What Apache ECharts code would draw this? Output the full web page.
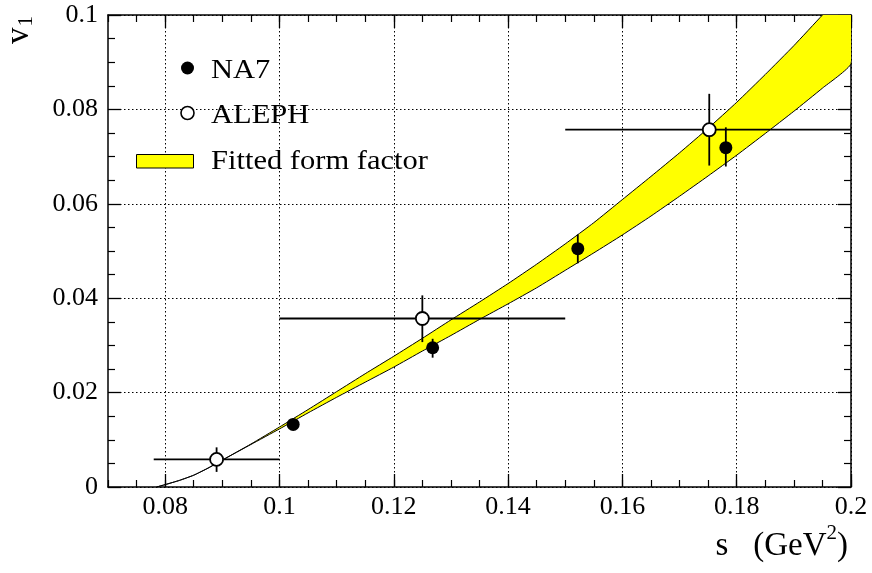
<!DOCTYPE html>
<html>
<head>
<meta charset="utf-8">
<script src="https://cdn.jsdelivr.net/npm/echarts@6/dist/echarts.min.js"></script>
<style>
  html, body { margin: 0; padding: 0; background: #fff; }
  #chart { width: 872px; height: 573px; }
</style>
</head>
<body>
<div id="chart"></div>
<script>
// fitted form factor band (upper / lower edge)
var bandS     = [0.0785, 0.08, 0.0825, 0.085, 0.0875, 0.09, 0.095, 0.10, 0.105, 0.11, 0.115, 0.12, 0.125, 0.13, 0.135, 0.14, 0.145, 0.15, 0.155, 0.16, 0.165, 0.17, 0.175, 0.18, 0.185, 0.19, 0.195, 0.2];
var bandUpper = [0, 0.0005, 0.0014, 0.0025, 0.0040, 0.0057, 0.0091, 0.0127, 0.0164, 0.0202, 0.0240, 0.0277, 0.0315, 0.0354, 0.0392, 0.0431, 0.0472, 0.0515, 0.0560, 0.0609, 0.0658, 0.0708, 0.0760, 0.0815, 0.0874, 0.0935, 0.1000, 0.1065];
var bandLower = [0, 0.0005, 0.0014, 0.0025, 0.0040, 0.0057, 0.0090, 0.0123, 0.0157, 0.0190, 0.0222, 0.0254, 0.0288, 0.0321, 0.0355, 0.0388, 0.0422, 0.0459, 0.0496, 0.0534, 0.0574, 0.0616, 0.0659, 0.0703, 0.0749, 0.0796, 0.0845, 0.0897];

// NA7 points
var na7S  = [0.1024, 0.1268, 0.1522, 0.1781];
var na7V  = [0.01325, 0.0295, 0.0505, 0.0719];
var na7Lo = [0.0126, 0.0274, 0.0474, 0.0679];
var na7Hi = [0.0139, 0.0314, 0.0535, 0.0762];

// ALEPH points
var alephS   = [0.0890, 0.125, 0.1752];
var alephV   = [0.00585, 0.0357, 0.0757];
var alephSLo = [0.078, 0.10, 0.15];
var alephSHi = [0.10, 0.15, 0.20];
var alephLo  = [0.0032, 0.0307, 0.0681];
var alephHi  = [0.0084, 0.0406, 0.0833];

var xTicks = [0.08, 0.1, 0.12, 0.14, 0.16, 0.18, 0.2];

var serif = '"Liberation Serif", "DejaVu Serif", serif';
var fmt = function (v) { return String(parseFloat((+v).toFixed(3))); };

var errRows = [];
na7S.forEach(function (s, i) { errRows.push([s, na7V[i], s, s, na7Lo[i], na7Hi[i]]); });
alephS.forEach(function (s, i) { errRows.push([s, alephV[i], alephSLo[i], alephSHi[i], alephLo[i], alephHi[i]]); });

var chart = echarts.init(document.getElementById('chart'));

var dotted = { color: '#000', width: 1, type: [1.5, 2.5] };

var option = {
  backgroundColor: '#fff',
  animation: false,
  grid: { left: 108, right: 21, top: 15, bottom: 86 },
  title: {
    right: 19, bottom: 2,
    text: '{a|s   (GeV}{sup|2}{a|)}',
    textStyle: {
      fontWeight: 'normal',
      rich: {
        a: { fontFamily: serif, fontSize: 33, fontWeight: 'normal', color: '#000', verticalAlign: 'bottom', lineHeight: 40 },
        sup: { fontFamily: serif, fontSize: 21, fontWeight: 'normal', color: '#000', verticalAlign: 'top', padding: [0, 0, 22, 0], lineHeight: 40 }
      }
    }
  },
  xAxis: [
    { // main bottom axis, major ticks
      type: 'value', position: 'bottom', min: 0.07, max: 0.2, interval: 0.005,
      axisLine: { show: true, lineStyle: { color: '#000', width: 1.5 } },
      axisTick: { show: true, inside: true, length: 13, customValues: xTicks, lineStyle: { color: '#000', width: 1.3 } },
      axisLabel: { show: true, customValues: xTicks, margin: 7, formatter: fmt, color: '#000', fontFamily: serif, fontSize: 26 },
      splitLine: { show: true, lineStyle: dotted }
    },
    { // bottom minor ticks
      type: 'value', position: 'bottom', min: 0.07, max: 0.2, interval: 0.005,
      axisLine: { show: false },
      axisTick: { show: true, inside: true, length: 7, lineStyle: { color: '#000', width: 1.2 } },
      axisLabel: { show: false }, splitLine: { show: false }
    },
    { // top major ticks
      type: 'value', position: 'top', min: 0.07, max: 0.2, interval: 0.005,
      axisLine: { show: true, lineStyle: { color: '#000', width: 1.5 } },
      axisTick: { show: true, inside: true, length: 13, customValues: xTicks, lineStyle: { color: '#000', width: 1.3 } },
      axisLabel: { show: false }, splitLine: { show: false }
    },
    { // top minor ticks
      type: 'value', position: 'top', min: 0.07, max: 0.2, interval: 0.005,
      axisLine: { show: false },
      axisTick: { show: true, inside: true, length: 7, lineStyle: { color: '#000', width: 1.2 } },
      axisLabel: { show: false }, splitLine: { show: false }
    }
  ],
  yAxis: [
    {
      type: 'value', position: 'left', min: 0, max: 0.1, interval: 0.02,
      axisLine: { show: true, lineStyle: { color: '#000', width: 1.5 } },
      axisTick: { show: true, inside: true, length: 13, lineStyle: { color: '#000', width: 1.3 } },
      minorTick: { show: true, splitNumber: 4, length: 7, lineStyle: { color: '#000', width: 1.2 } },
      axisLabel: { margin: 10, formatter: fmt, color: '#000', fontFamily: serif, fontSize: 26 },
      splitLine: { show: true, lineStyle: dotted }
    },
    {
      type: 'value', position: 'right', min: 0, max: 0.1, interval: 0.02,
      axisLine: { show: true, lineStyle: { color: '#000', width: 1.5 } },
      axisTick: { show: true, inside: true, length: 13, lineStyle: { color: '#000', width: 1.3 } },
      minorTick: { show: true, splitNumber: 4, length: 7, lineStyle: { color: '#000', width: 1.2 } },
      axisLabel: { show: false }, splitLine: { show: false }
    }
  ],
  graphic: [
    { // y axis name
      type: 'text', x: 19, y: 30, rotation: Math.PI / 2,
      style: {
        text: '{a|v}{sub|1}', align: 'center', verticalAlign: 'middle',
        rich: {
          a: { fontFamily: serif, fontSize: 33, fill: '#000' },
          sub: { fontFamily: serif, fontSize: 21, fill: '#000', padding: [14, 0, 0, 1] }
        }
      }
    },
    // legend
    { type: 'circle', shape: { cx: 187.5, cy: 68, r: 6.5 }, style: { fill: '#000' }, z: 10 },
    { type: 'text', x: 211, y: 70.5, scaleX: 1.13, style: { text: 'NA7', fill: '#000', font: '27px ' + serif, verticalAlign: 'middle' }, z: 10 },
    { type: 'circle', shape: { cx: 187.5, cy: 113, r: 6.5 }, style: { fill: '#fff', stroke: '#000', lineWidth: 1.6 }, z: 10 },
    { type: 'text', x: 211, y: 116, scaleX: 1.13, style: { text: 'ALEPH', fill: '#000', font: '27px ' + serif, verticalAlign: 'middle' }, z: 10 },
    { type: 'rect', shape: { x: 136.5, y: 154.5, width: 57, height: 13.5 }, style: { fill: '#ffff00', stroke: '#000', lineWidth: 1 }, z: 10 },
    { type: 'text', x: 211, y: 162, scaleX: 1.13, style: { text: 'Fitted form factor', fill: '#000', font: '27px ' + serif, verticalAlign: 'middle' }, z: 10 }
  ],
  series: [
    {
      name: 'Fitted form factor', type: 'custom', clip: true, z: 2,
      data: bandS.map(function (s, i) { return [s, bandLower[i], bandUpper[i]]; }),
      encode: { x: 0, y: [1, 2] },
      renderItem: function (params, api) {
        if (params.dataIndex !== 0) return;
        var pts = [];
        for (var i = 0; i < bandS.length; i++) pts.push(api.coord([bandS[i], bandUpper[i]]));
        for (var j = bandS.length - 1; j >= 0; j--) pts.push(api.coord([bandS[j], bandLower[j]]));
        var cs = params.coordSys;
        return {
          type: 'polygon',
          shape: { points: pts, smooth: 0.15 },
          style: { fill: '#ffff00', stroke: '#000', lineWidth: 1 },
          clipPath: { type: 'rect', shape: { x: cs.x, y: cs.y, width: cs.width, height: cs.height } }
        };
      }
    },
    {
      name: 'errors', type: 'custom', clip: true, z: 3,
      data: errRows,
      encode: { x: 0, y: 1 },
      renderItem: function (params, api) {
        var x = api.value(0), y = api.value(1);
        var xl = api.value(2), xh = api.value(3), yl = api.value(4), yh = api.value(5);
        var kids = [];
        var a = api.coord([x, yl]), b = api.coord([x, yh]);
        kids.push({ type: 'line', shape: { x1: a[0], y1: a[1], x2: b[0], y2: b[1] }, style: { stroke: '#000', lineWidth: 1.8 } });
        if (xh > xl) {
          var c = api.coord([xl, y]), d = api.coord([xh, y]);
          kids.push({ type: 'line', shape: { x1: c[0], y1: c[1], x2: d[0], y2: d[1] }, style: { stroke: '#000', lineWidth: 1.8 } });
        }
        return { type: 'group', children: kids };
      }
    },
    {
      name: 'NA7', type: 'scatter', z: 4, symbol: 'circle', symbolSize: 13,
      itemStyle: { color: '#000', opacity: 1 },
      data: na7S.map(function (s, i) { return [s, na7V[i]]; })
    },
    {
      name: 'ALEPH', type: 'scatter', z: 5, symbol: 'circle', symbolSize: 13,
      itemStyle: { color: '#fff', borderColor: '#000', borderWidth: 1.8, opacity: 1 },
      data: alephS.map(function (s, i) { return [s, alephV[i]]; })
    }
  ]
};

chart.setOption(option);
</script>
</body>
</html>
